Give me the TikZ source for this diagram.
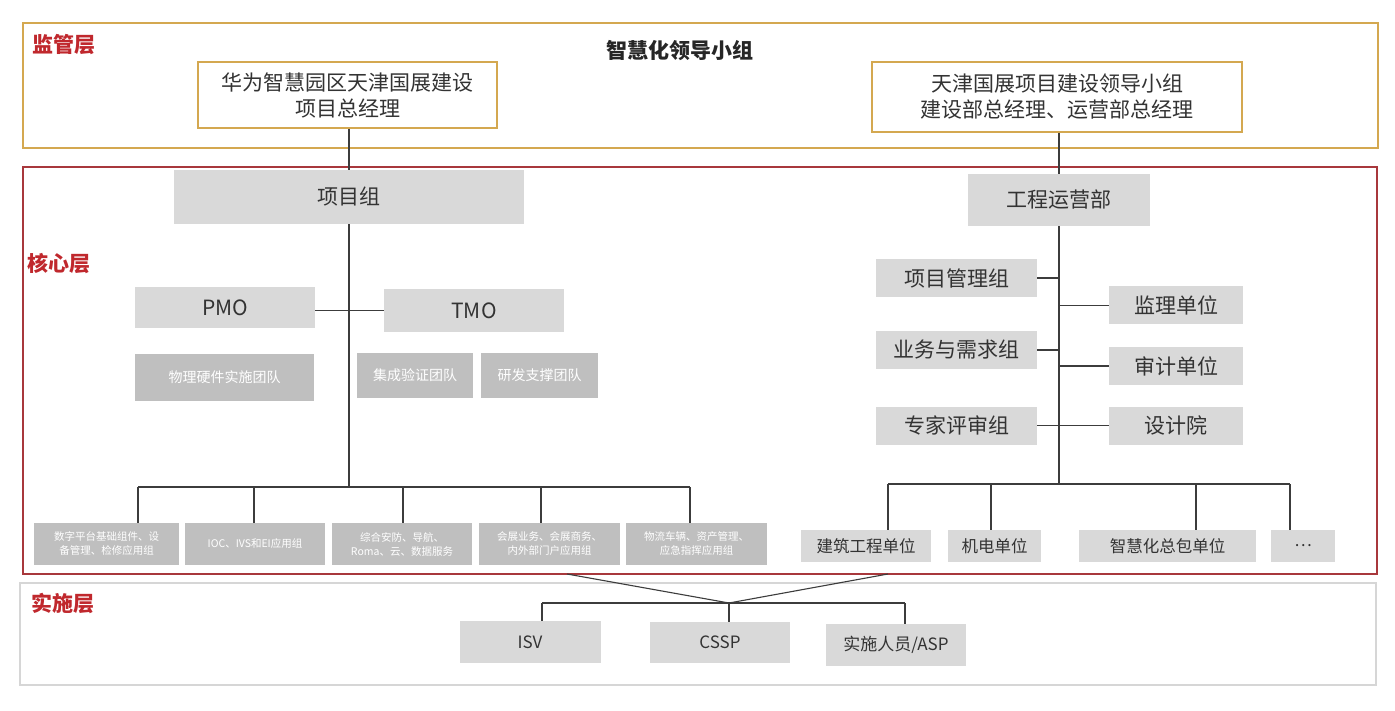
\documentclass[tikz,border=0pt]{standalone}
\usepackage{fontspec}
\setmainfont{Noto Sans CJK SC}
\begin{document}
\definecolor{goldc}{HTML}{D4A850}
\definecolor{corec}{HTML}{A8383C}
\definecolor{implc}{HTML}{D6D6D6}
\definecolor{labc}{HTML}{C0282D}
\definecolor{boxg}{HTML}{D9D9D9}
\definecolor{boxd}{HTML}{BFBFBF}
\definecolor{txt}{HTML}{333333}
\definecolor{linec}{HTML}{3C3C3C}
\begin{tikzpicture}[x=1pt,y=-1pt,
  every node/.style={inner sep=0pt,align=center,text=txt},
  goldbox/.style={draw=goldc,line width=1.3pt,fill=white,font=\fontsize{21}{26}\selectfont},
  graybox/.style={fill=boxg,font=\fontsize{21}{26}\selectfont},
  midbox/.style={fill=boxg,font=\fontsize{16.5}{20}\selectfont},
  implbox/.style={fill=boxg,font=\fontsize{17}{20}\selectfont},
  darkbox/.style={fill=boxd,text=white,font=\fontsize{14}{17}\selectfont},
  smallbox/.style={fill=boxd,text=white,font=\fontsize{10.5}{14}\selectfont},
  layerlab/.style={anchor=west,text=labc,font=\fontsize{21}{24}\selectfont\bfseries},
  conn/.style={draw=linec,line width=1.1pt}]
\useasboundingbox (0,0) rectangle (1395,711);
\fill[white] (0,0) rectangle (1395,711);
% frames
\draw[goldc,line width=1.3pt] (23,23) rectangle (1378,148);
\draw[corec,line width=1.3pt] (23,167) rectangle (1377,574);
\draw[implc,line width=1.3pt] (20,583) rectangle (1376,685);
\node[layerlab] (labS) at (32,45) {监管层};
\node[layerlab] (labC) at (27,264) {核心层};
\node[layerlab] (labI) at (31,603) {实施层};
% supervision layer
\node[font=\fontsize{21}{24}\selectfont\bfseries,text=black!85] (lead) at (680,51) {智慧化领导小组};
\node[goldbox,minimum width=299pt,minimum height=66pt] (topL) at (347.5,95) {华为智慧园区天津国展建设\\项目总经理};
\node[goldbox,minimum width=370pt,minimum height=70pt] (topR) at (1057,97) {天津国展项目建设领导小组\\建设部总经理、运营部总经理};
% core layer left
\node[graybox,minimum width=350pt,minimum height=54pt] (xmz) at (349,197) {项目组};
\node[graybox,minimum width=182pt,minimum height=52pt] (gcy) at (1059,200) {工程运营部};
\draw[conn] (xmz.north |- topL.south) -- (xmz.north);
\draw[conn] (topR.south -| gcy.north) -- (gcy.north);
\node[graybox,minimum width=180pt,minimum height=41pt] (pmo) at (225,308) {PMO};
\node[graybox,minimum width=180pt,minimum height=43pt] (tmo) at (474,310.5) {TMO};
\node[darkbox,minimum width=179pt,minimum height=47pt] (wl) at (224.5,377.5) {物理硬件实施团队};
\node[darkbox,minimum width=116pt,minimum height=45pt] (jc) at (415,375.5) {集成验证团队};
\node[darkbox,minimum width=117pt,minimum height=45pt] (yf) at (539.5,375.5) {研发支撑团队};
\node[smallbox,minimum width=145pt,minimum height=42pt] (b1) at (106.5,544) {数字平台基础组件、设\\备管理、检修应用组};
\node[smallbox,minimum width=140pt,minimum height=42pt] (b2) at (255,544) {IOC、IVS和EI应用组};
\node[smallbox,minimum width=140pt,minimum height=42pt] (b3) at (402,544) {综合安防、导航、\\Roma、云、数据服务};
\node[smallbox,minimum width=141pt,minimum height=42pt] (b4) at (549.5,544) {会展业务、会展商务、\\内外部门户应用组};
\node[smallbox,minimum width=141pt,minimum height=42pt] (b5) at (696.5,544) {物流车辆、资产管理、\\应急指挥应用组};
\coordinate (d1) at (138,487);
\coordinate (d2) at (254,487);
\coordinate (d3) at (403,487);
\coordinate (d4) at (541,487);
\coordinate (d5) at (690,487);
\draw[conn] (xmz.south) -- (xmz.south |- d1);
\draw[conn] (d1) -- (d5);
\draw[conn] (d1) -- (d1 |- b1.north);
\draw[conn] (d2) -- (d2 |- b2.north);
\draw[conn] (d3) -- (d3 |- b3.north);
\draw[conn] (d4) -- (d4 |- b4.north);
\draw[conn] (d5) -- (d5 |- b5.north);
\draw[conn] (tmo.west -| pmo.east) -- (tmo.west);
% core layer right
\node[graybox,minimum width=161pt,minimum height=38pt] (xmgl) at (956.5,278) {项目管理组};
\node[graybox,minimum width=134pt,minimum height=38pt] (jl) at (1176,305.5) {监理单位};
\node[graybox,minimum width=161pt,minimum height=38pt] (yw) at (956.5,350) {业务与需求组};
\node[graybox,minimum width=134pt,minimum height=38pt] (sj) at (1176,366) {审计单位};
\node[graybox,minimum width=161pt,minimum height=38pt] (zj) at (956.5,425.5) {专家评审组};
\node[graybox,minimum width=134pt,minimum height=38pt] (sjy) at (1176,425.5) {设计院};
\coordinate (r0) at (1060,484);
\coordinate (r1) at (888,484);
\coordinate (r2) at (991,484);
\coordinate (r3) at (1196,484);
\coordinate (r4) at (1290,484);
\draw[conn] (gcy.south) -- (gcy.south |- r0);
\draw[conn] (xmgl.east) -- (xmgl.east -| r0);
\draw[conn] (yw.east) -- (yw.east -| r0);
\draw[conn] (zj.east) -- (sjy.west);
\draw[conn] (jl.west -| r0) -- (jl.west);
\draw[conn] (sj.west -| r0) -- (sj.west);
\node[midbox,minimum width=130pt,minimum height=32pt] (jz) at (866,546) {建筑工程单位};
\node[midbox,minimum width=93pt,minimum height=32pt] (jd) at (994.5,546) {机电单位};
\node[midbox,minimum width=177pt,minimum height=32pt] (zh) at (1167.5,546) {智慧化总包单位};
\node[midbox,minimum width=64pt,minimum height=32pt] (dots) at (1303,546) {…};
\draw[conn] (r1) -- (r4);
\draw[conn] (r1) -- (r1 |- jz.north);
\draw[conn] (r2) -- (r2 |- jd.north);
\draw[conn] (r3) -- (r3 |- zh.north);
\draw[conn] (r4) -- (r4 |- dots.north);
% implementation layer
\node[implbox,minimum width=141pt,minimum height=42pt] (isv) at (530,642) {ISV};
\node[implbox,minimum width=140pt,minimum height=41pt] (cssp) at (720,642.5) {CSSP};
\node[implbox,minimum width=140pt,minimum height=42pt] (asp) at (896,645) {实施人员/ASP};
\coordinate (t1) at (567,574);
\coordinate (t2) at (888,574);
\coordinate (jn) at (729,603);
\coordinate (i1) at (542,603);
\coordinate (i3) at (905,603);
\draw[conn] (t1) -- (jn) -- (t2);
\draw[conn] (i1) -- (i3);
\draw[conn] (i1) -- (i1 |- isv.north);
\draw[conn] (jn) -- (jn |- cssp.north);
\draw[conn] (i3) -- (i3 |- asp.north);
\end{tikzpicture}
\end{document}
